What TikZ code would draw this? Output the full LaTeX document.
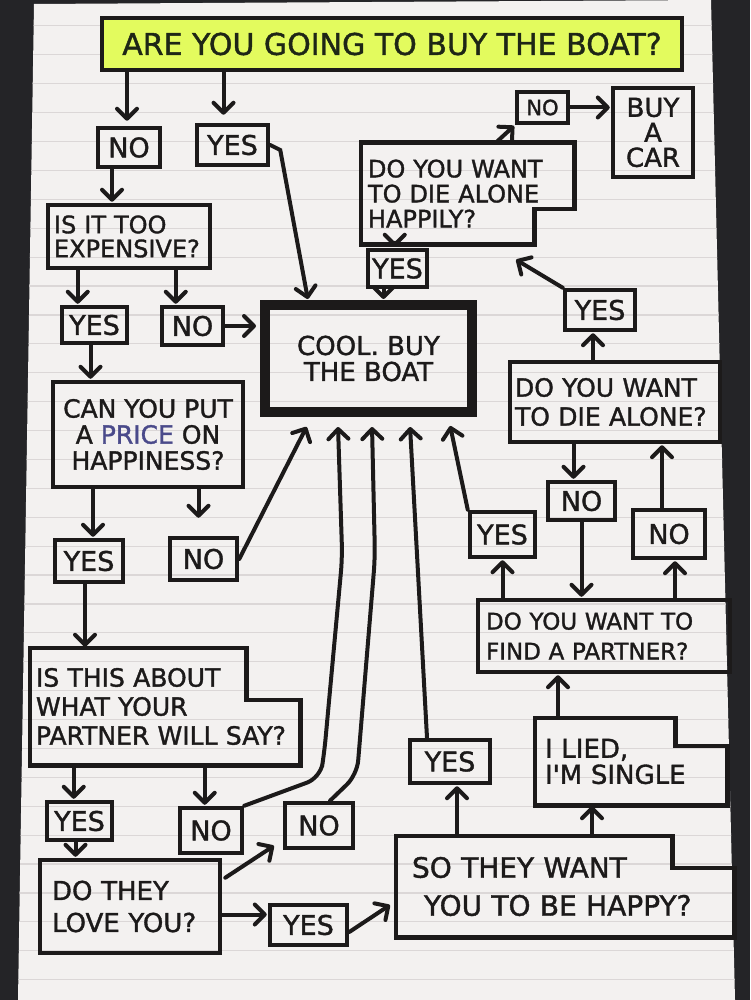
\documentclass[tikz,border=0pt]{standalone}
\usepackage{fontspec}
\setmainfont{DejaVu Sans}
\newfontfamily\markerfont{DejaVu Sans}[FakeBold=1.4]
\usepackage{tikz}
\usetikzlibrary{arrows.meta,positioning,calc}
\definecolor{Ink}{HTML}{1C1A1A}
\definecolor{TitleInk}{HTML}{1E2616}
\definecolor{Paper}{HTML}{F3F1F0}
\definecolor{RuleGrey}{HTML}{DBD7D7}
\definecolor{Desk}{HTML}{242427}
\definecolor{Marker}{HTML}{E3FB5E}
\definecolor{PenBlue}{HTML}{4A4A8A}
\newcommand\hand[2]{\markerfont\fontsize{#1}{#2}\selectfont}

\begin{document}
\begin{tikzpicture}[x=1pt,y=-1pt,
  box/.style={draw=Ink, line width=4.5pt, text=Ink, inner sep=4pt, align=center},
  ans/.style={box, font=\hand{27}{27}},
  ask/.style={box, align=left, text width=#1pt},
  stepbox/.style={ask=#1, draw=none},
  wh/.style 2 args={minimum width=#1pt, minimum height=#2pt},
  outline/.style={draw=Ink, line width=4.5pt},
  arr/.style={draw=Ink, line width=4pt, line cap=round, -{Straight Barb[length=10pt,width=20pt,round]}, shorten >=1pt}]
  \useasboundingbox (0,0) rectangle (750,1000);
  \fill[Desk] (0,0) rectangle (750,1000);
  \fill[Paper] (34,4) -- (711,0) -- (735,1000) -- (18,1000) -- cycle;
  \begin{scope}
    \clip (34,4) -- (711,0) -- (735,1000) -- (18,1000) -- cycle;
    \foreach \k in {1,...,34}
      \draw[RuleGrey, line width=1.2pt] (0,{-3+28.9*\k}) -- (750,{-3+28.9*\k});
  \end{scope}

  \node[box, wh={580}{52}, fill=Marker, font=\hand{30}{30}, text=TitleInk] (title) at (392,44) {ARE YOU GOING TO BUY THE BOAT?};
  \node[ans, wh={62}{39}] (no1) at (129,147.5) {NO};
  \node[ans, wh={71}{40}] (yes1) at (232.5,145) {YES};
  \node[ask=150, wh={162}{63}, font=\hand{24}{24}] (expensive) at (129,236.5) {IS IT TOO\\EXPENSIVE?};
  \node[ans, wh={65}{36}] (yes2) at (94.5,325) {YES};
  \node[ans, wh={61}{38}] (no2) at (192.5,326) {NO};
  \node[box, line width=10pt, wh={207}{107}, font=\hand{26}{26}] (cool) at (368.5,358.5) {COOL. BUY\\THE BOAT};
  \node[stepbox=199, wh={209}{97}, font=\hand{24}{25}] (happily) at (467.5,193.5) {DO YOU WANT\\TO DIE ALONE\\HAPPILY?};
  \node[ans, wh={51}{31}, font=\hand{21}{21}] (no3) at (542.5,107.5) {NO};
  \node[ans, wh={80}{89}, font=\hand{26}{25}] (car) at (653,132.5) {BUY\\A\\CAR};
  \node[ans, wh={59}{37}] (yes3) at (397.5,268.5) {YES};
  \node[ans, wh={70}{40}] (yes4) at (600,310) {YES};
  \node[ask=200, wh={210}{80}, font=\hand{25}{29}] (alone) at (615,402) {DO YOU WANT\\TO DIE ALONE?};
  \node[ans, wh={67}{38}] (no4) at (581.5,501) {NO};
  \node[ans, wh={72}{48}] (no5) at (669,534) {NO};
  \node[ans, wh={65}{45}] (yes5) at (502.5,534.5) {YES};
  \node[box, wh={190}{105}, font=\hand{25}{26}] (price) at (148,434.5) {CAN YOU PUT\\A \textcolor{PenBlue}{PRICE} ON\\HAPPINESS?};
  \node[ans, wh={68}{42}] (yes6) at (89,561) {YES};
  \node[ans, wh={67}{42}] (no6) at (203.5,559) {NO};
  \node[ask=236, wh={252}{72}, font=\hand{23}{30}] (partner) at (604,636) {DO YOU WANT TO\\FIND A PARTNER?};
  \node[stepbox=258, wh={264}{113}, font=\hand{25}{29}] (isthis) at (165,706.5) {IS THIS ABOUT\\WHAT YOUR\\PARTNER WILL SAY?};
  \node[stepbox=172, wh={188}{83}, font=\hand{26}{26}] (lied) at (631,761.5) {I LIED,\\I'M SINGLE};
  \node[ans, wh={65}{38}] (yes7) at (79.5,821) {YES};
  \node[ans, wh={62}{45}] (no7) at (211,830.5) {NO};
  \node[ans, wh={68}{45}] (no8) at (319,825.5) {NO};
  \node[ans, wh={80}{43}] (yes8) at (450,761.5) {YES};
  \node[ask=156, wh={180}{93}, font=\hand{26}{32}] (love) at (130,906.5) {DO THEY\\LOVE YOU?};
  \node[ans, wh={77}{40}] (yes9) at (308.5,925) {YES};
  \node[stepbox=306, wh={334}{97}, font=\hand{28}{38}] (so) at (565,886.5) {SO THEY WANT\\\hspace*{12pt}YOU TO BE HAPPY?};

  \draw[outline] (happily.north west) -- (happily.north east) -- ([yshift=35]happily.south east) -- ([xshift=-40,yshift=35]happily.south east) -- ([xshift=-40]happily.south east) -- (happily.south west) -- cycle;
  \draw[outline] (isthis.south west) -- (isthis.north west) -- ([xshift=-54]isthis.north east) -- ([xshift=-54,yshift=-52]isthis.north east) -- ([yshift=-52]isthis.north east) -- (isthis.south east) -- cycle;
  \draw[outline] (lied.south west) -- (lied.north west) -- ([xshift=-52]lied.north east) -- ([xshift=-52,yshift=-28]lied.north east) -- ([yshift=-28]lied.north east) -- (lied.south east) -- cycle;
  \draw[outline] (so.south west) -- (so.north west) -- ([xshift=-62]so.north east) -- ([xshift=-62,yshift=-32]so.north east) -- ([yshift=-32]so.north east) -- (so.south east) -- cycle;

  \draw[arr, shorten >=5pt] ([xshift=-2]no1.north |- title.south) -- ([xshift=-2]no1.north);
  \draw[arr, shorten >=8pt] ([xshift=-9]yes1.north |- title.south) -- ([xshift=-9]yes1.north);
  \draw[arr] ([xshift=-17]no1.south) -- ([xshift=-17]no1.south |- expensive.north);
  \draw[arr] (yes1.east) -- ++(10,5) -- ([xshift=48]cool.north west);
  \draw[arr] ([xshift=32]expensive.south west) -- ([xshift=32]expensive.south west |- yes2.north);
  \draw[arr] ([xshift=130]expensive.south west) -- ([xshift=130]expensive.south west |- no2.north);
  \draw[arr, shorten >=4pt] (no2.east) -- (no2.east -| cool.west);
  \draw[arr] ([xshift=-4]yes2.south) -- ([xshift=-4]yes2.south |- price.north);
  \draw[arr] ([xshift=4]yes6.north |- price.south) -- ([xshift=4]yes6.north);
  \draw[arr, shorten >=18pt] ([xshift=-5]no6.north |- price.south) -- ([xshift=-5]no6.north);
  \draw[arr] (no6.east) -- ([xshift=47,yshift=-9]cool.south west);
  \draw[arr] ([xshift=-4]yes6.south) -- ([xshift=-4]yes6.south |- isthis.north);
  \draw[arr] ([xshift=44]isthis.south west) -- ([xshift=44]isthis.south west |- yes7.north);
  \draw[arr] ([xshift=175]isthis.south west) -- ([xshift=175]isthis.south west |- no7.north);
  \draw[arr] ([xshift=-4]yes7.south) -- ([xshift=-4]yes7.south |- love.north);
  \draw[arr] ([xshift=3,yshift=-20]love.north east) -- ([xshift=-8,yshift=5]no8.south west);
  \draw[arr] ([yshift=-8]love.east) -- ([yshift=-8]love.east -| yes9.west);
  \draw[arr] ([yshift=-7]yes9.east) -- ([xshift=-5,yshift=-18]so.west);
  \draw[arr, rounded corners=14pt] (no7.north east) -- ++(76,-28) -- ++(4,-25) -- ++(18,-195) -- ([xshift=78,yshift=-9]cool.south west);
  \draw[arr, rounded corners=14pt] ([xshift=11]no8.north) -- ++(27,-26) -- ++(18,-217) -- ([xshift=112,yshift=-9]cool.south west);
  \draw[arr] ([xshift=-23]yes8.north) -- ([xshift=-67,yshift=-9]cool.south east);
  \draw[arr] ([xshift=7]yes8.south |- so.north) -- ([xshift=7]yes8.south);
  \draw[arr] ([xshift=-39]lied.south |- so.north) -- ([xshift=-39]lied.south);
  \draw[arr] ([xshift=-73]lied.north) -- ([xshift=-73]lied.north |- partner.south);
  \draw[arr] (partner.north -| yes5) -- (yes5.south);
  \draw[arr] (no4.south) -- (no4.south |- partner.north);
  \draw[arr] ([xshift=6]no5.south |- partner.north) -- ([xshift=6]no5.south);
  \draw[arr] ([xshift=-7]no5.north) -- ([xshift=-7]no5.north |- alone.south);
  \draw[arr] ([xshift=-8]no4.north |- alone.south) -- ([xshift=-8]no4.north);
  \draw[arr] ([xshift=-7]yes4.south |- alone.north) -- ([xshift=-7]yes4.south);
  \draw[arr] (yes5.north west) -- ([xshift=-27,yshift=-8]cool.south east);
  \draw[arr] (yes4.north west) -- ([xshift=-59,yshift=-15]happily.south east);
  \draw[arr] ([xshift=34]happily.south west) -- ([xshift=34]happily.south west |- yes3.north);
  \draw[arr] ([xshift=-14]yes3.south) -- ([xshift=-14]yes3.south |- cool.north);
  \draw[arr] ([xshift=135]happily.north west) -- (no3.south west);
  \draw[arr] (no3.east) -- (no3.east -| car.west);
\end{tikzpicture}
\end{document}
